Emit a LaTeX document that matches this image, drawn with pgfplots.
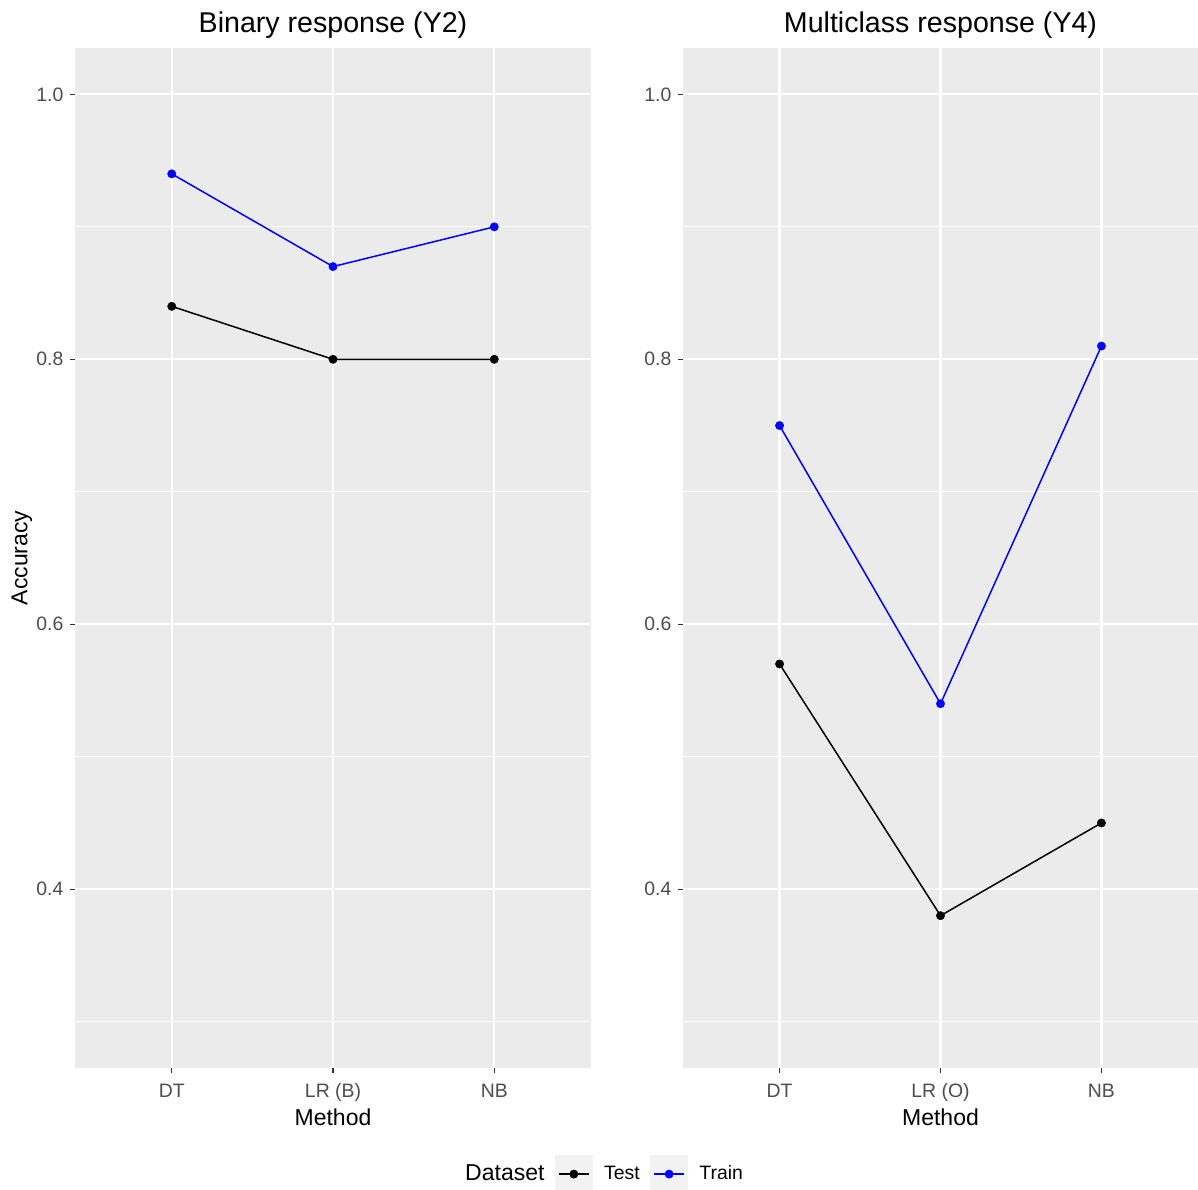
\documentclass[border=0pt]{standalone}
\usepackage{fontspec}
\setmainfont{Liberation Sans}
\usepackage{pgfplots}
\pgfplotsset{compat=1.18}
\definecolor{ggbg}{HTML}{EBEBEB}
\definecolor{ggtick}{HTML}{333333}
\definecolor{ggtext}{HTML}{4D4D4D}
\definecolor{ggkey}{HTML}{F2F2F2}
\definecolor{ggblue}{HTML}{0000FF}
\pgfplotsset{ggpanel/.style={
  scale only axis, height=510pt,
  xmin=0.4, xmax=3.6, ymin=0.265, ymax=1.035,
  xtick={1,2,3}, ytick={0.4,0.6,0.8,1.0}, yticklabels={0.4,0.6,0.8,1.0},
  minor ytick={0.3,0.5,0.7,0.9},
  grid=both,
  major grid style={white, line width=1.1pt},
  minor grid style={white, line width=0.55pt},
  axis background/.style={fill=ggbg},
  axis line style={draw=none},
  tick align=outside, major tick length=2.6pt, minor tick length=0pt,
  tick style={ggtick, line width=0.55pt},
  xtick pos=bottom, ytick pos=left,
  /pgf/number format/assume math mode=true,
  ticklabel style={font=\fontsize{9.7}{11}\selectfont, text=ggtext, inner sep=0pt},
  xticklabel style={anchor=base, yshift=-12pt},
  yticklabel style={anchor=east, xshift=-3pt},
  every axis plot/.append style={line width=0.75pt, mark=*, mark size=2.1pt, mark options={line width=0.2pt}},
  title style={font=\fontsize{14.3}{16}\selectfont, at={(axis description cs:0.5,1)}, anchor=base, yshift=1.75pt},
  xlabel style={font=\fontsize{11.5}{13}\selectfont, at={(axis description cs:0.5,0)}, anchor=base, yshift=-28.5pt},
  clip=false,
}}
\begin{document}
\begin{tikzpicture}
\fill[white] (0,0) rectangle (599pt,594.5pt);
\path[use as bounding box] (0,0) rectangle (599pt,594.5pt);
\begin{axis}[ggpanel, width=258pt, at={(37.5pt,60.5pt)}, anchor=south west,
  title={Binary response (Y2)},
  xticklabels={DT,LR (B),NB},
  xlabel={Method},
  ylabel={Accuracy},
  ylabel style={font=\fontsize{11.5}{13}\selectfont, at={(axis description cs:-0.1030,0.5)}, anchor=center, rotate=0},
  legend columns=-1,
  legend style={at={(axis description cs:1.018,-0.104)}, anchor=center, draw=none, fill=none,
    font=\fontsize{9.7}{11}\selectfont, inner sep=0pt,
    /tikz/every odd column/.append style={column sep=3.8pt},
    /tikz/every even column/.append style={column sep=3.3pt}},
  legend image code/.code={\fill[ggkey] (0pt,-9.25pt) rectangle (18pt,9.25pt);
    \draw[mark repeat=2,mark phase=2,#1] plot coordinates {(1.5pt,0pt) (9pt,0pt) (16.5pt,0pt)};},
]
\addlegendimage{empty legend}
\addplot[black] coordinates {(1,0.84) (2,0.80) (3,0.80)};
\addplot[ggblue] coordinates {(1,0.94) (2,0.87) (3,0.90)};
\legend{{\fontsize{11.5}{13}\selectfont Dataset},Test,Train}
\end{axis}
\begin{axis}[ggpanel, width=257.5pt, at={(341.5pt,60.5pt)}, anchor=south west,
  title={Multiclass response (Y4)},
  xticklabels={DT,LR (O),NB},
  xlabel={Method},
]
\addplot[black] coordinates {(1,0.57) (2,0.38) (3,0.45)};
\addplot[ggblue] coordinates {(1,0.75) (2,0.54) (3,0.81)};
\end{axis}
\end{tikzpicture}
\end{document}
